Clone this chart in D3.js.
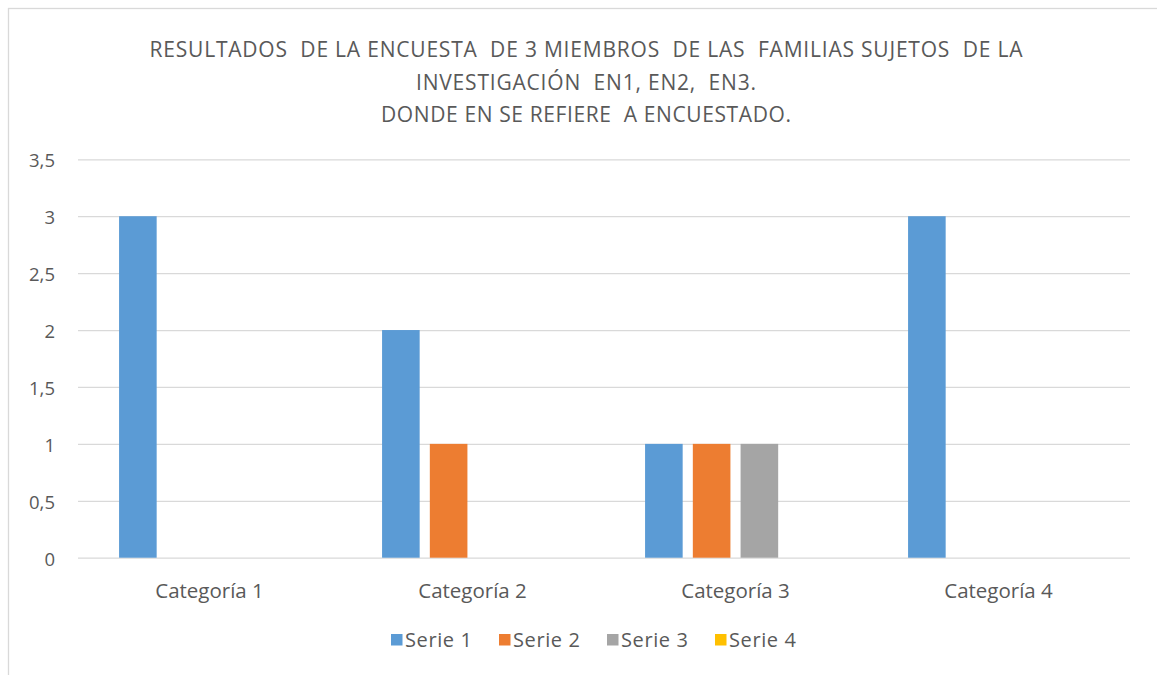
<!DOCTYPE html>
<html>
<head>
<meta charset="utf-8">
<script src="https://cdn.jsdelivr.net/npm/d3@7"></script>
<style>
  body { margin: 0; background: #fff; }
  text { font-family: "Open Sans", sans-serif; fill: #595959; }
</style>
</head>
<body>
<div id="chart"></div>
<script>
// data
const categories = ['Categoría 1', 'Categoría 2', 'Categoría 3', 'Categoría 4'];
const seriesNames = ['Serie 1', 'Serie 2', 'Serie 3', 'Serie 4'];
const serie1 = [3, 2, 1, 3];
const serie2 = [0, 1, 1, 0];
const serie3 = [0, 0, 1, 0];
const serie4 = [0, 0, 0, 0];
const yTicks = [0, 0.5, 1, 1.5, 2, 2.5, 3, 3.5];
const titleLines = [
  'RESULTADOS  DE LA ENCUESTA  DE 3 MIEMBROS  DE LAS  FAMILIAS SUJETOS  DE LA',
  'INVESTIGACIÓN  EN1, EN2,  EN3.',
  'DONDE EN SE REFIERE  A ENCUESTADO.'
];
const colors = ['#5b9bd5', '#ed7d31', '#a5a5a5', '#ffc000'];

const allSeries = [serie1, serie2, serie3, serie4];

const width = 1157, height = 675;
const plot = { left: 78, right: 1130, top: 159.3, bottom: 557.7 };

const svg = d3.select('#chart').append('svg')
  .attr('width', width)
  .attr('height', height);

// chart frame (right and bottom sides run off the picture)
svg.append('rect')
  .attr('x', 8.5).attr('y', 8.5)
  .attr('width', 1160).attr('height', 700)
  .attr('fill', '#fff')
  .attr('stroke', '#d9d9d9')
  .attr('stroke-width', 1.3);

// title
const titleWidths = [873, 340, 410];
svg.append('g').selectAll('text')
  .data(titleLines)
  .enter().append('text')
  .attr('x', 586)
  .attr('y', (d, i) => [56.5, 89.5, 122][i])
  .attr('text-anchor', 'middle')
  .attr('textLength', (d, i) => titleWidths[i])
  .attr('lengthAdjust', 'spacing')
  .style('white-space', 'pre')
  .style('font-size', '21px')
  .text(d => d);

const y = d3.scaleLinear()
  .domain([0, 3.5])
  .range([plot.bottom, plot.top]);

const x0 = d3.scaleBand()
  .domain(categories)
  .range([plot.left, plot.right]);

const x1 = d3.scaleBand()
  .domain(seriesNames)
  .range([0, x0.bandwidth()])
  .paddingInner(0.2126)
  .paddingOuter(0.86);

const locale = d3.formatLocale({ decimal: ',', thousands: '.', grouping: [3], currency: ['', ''] });
const fmt = locale.format('~g');

// gridlines + y labels
const yAxis = svg.append('g')
  .attr('transform', `translate(${plot.left},0)`)
  .call(d3.axisLeft(y)
    .tickValues(yTicks)
    .tickSize(-(plot.right - plot.left))
    .tickPadding(23)
    .tickFormat(fmt));
yAxis.select('.domain').remove();
yAxis.selectAll('line').attr('stroke', '#d9d9d9').attr('stroke-width', 1.3);
yAxis.selectAll('text')
  .attr('dy', '0.4em')
  .style('font-size', '18.5px')
  .style('font-family', '"Open Sans", sans-serif')
  .attr('fill', '#595959');

// bars
const groups = svg.append('g').selectAll('g')
  .data(categories)
  .enter().append('g')
  .attr('transform', d => `translate(${x0(d)},0)`);

groups.selectAll('rect')
  .data((c, ci) => seriesNames.map((s, si) => ({ s, si, v: allSeries[si][ci] })))
  .enter().append('rect')
  .attr('x', d => x1(d.s))
  .attr('width', x1.bandwidth())
  .attr('y', d => y(d.v))
  .attr('height', d => y(0) - y(d.v))
  .attr('fill', d => colors[d.si]);

// category labels
const xAxis = svg.append('g')
  .attr('transform', `translate(0,${plot.bottom})`)
  .call(d3.axisBottom(x0).tickSize(0).tickPadding(25.5));
xAxis.select('.domain').remove();
xAxis.selectAll('text')
  .style('font-size', '20.5px')
  .style('font-family', '"Open Sans", sans-serif')
  .attr('fill', '#595959');

// legend
const legend = svg.append('g').selectAll('g')
  .data(seriesNames)
  .enter().append('g')
  .attr('transform', (d, i) => `translate(${391 + i * 108},634)`);

legend.append('rect')
  .attr('width', 11.5).attr('height', 11.5)
  .attr('fill', (d, i) => colors[i]);

legend.append('text')
  .attr('x', 14)
  .attr('y', 13)
  .style('font-size', '20px')
  .style('letter-spacing', '0.6px')
  .text(d => d);
</script>
</body>
</html>
